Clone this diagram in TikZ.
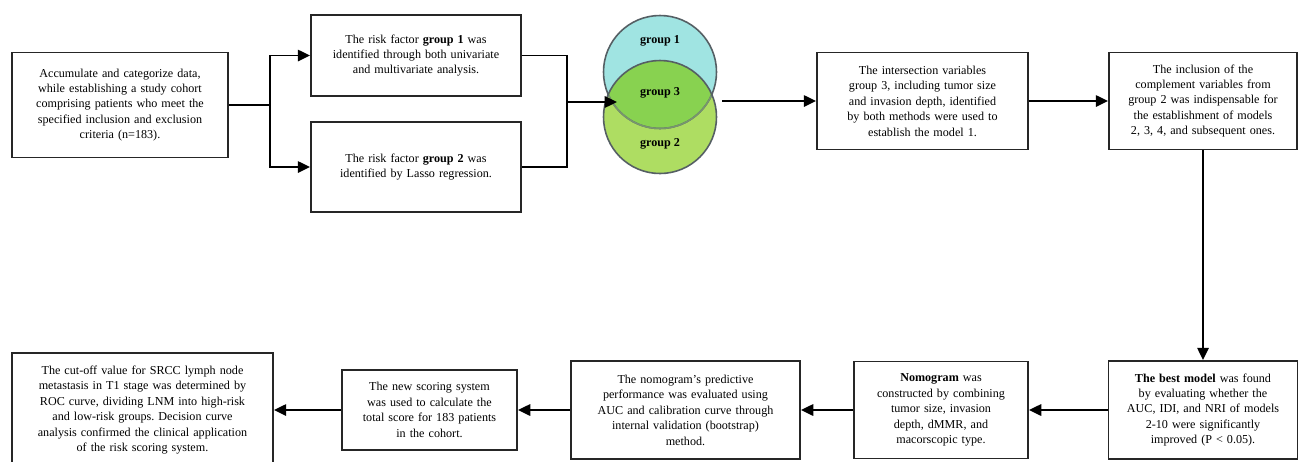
\documentclass[tikz,border=0pt]{standalone}
\usepackage{fontspec}
\setmainfont{Liberation Serif}
\usetikzlibrary{arrows.meta}
\definecolor{setone}{RGB}{160,228,226}
\definecolor{settwo}{RGB}{174,221,98}
\definecolor{setboth}{RGB}{136,210,80}
\definecolor{rimgray}{RGB}{85,95,100}
\definecolor{rimfaint}{RGB}{120,150,110}
\frenchspacing

\begin{document}
\begin{tikzpicture}[x=0.02cm, y=-0.02cm,
    stage/.style={draw=black!85, line width=1.1pt, fill=white, align=center,
      inner xsep=0pt, inner ysep=0pt, font=\fontsize{6.9}{8.8}\selectfont},
    link/.style={line width=1.1pt},
    flow/.style={link, -{Triangle[length=7pt,width=6.5pt]}},
    setlabel/.style={font=\fontsize{6.9}{8.8}\selectfont\bfseries}]
  \useasboundingbox (0,0) rectangle (1302,461);

  % Cohort and the two selection methods
  \node[stage, text width=4.32cm, minimum height=2.10cm] (cohort) at (120,105)
    {Accumulate and categorize data,\\ while establishing a study cohort\\
     comprising patients who meet the\\ specified inclusion and exclusion\\ criteria (n=183).};
  \node[stage, text width=4.20cm, minimum height=1.62cm] (groupone) at (416,55.5)
    {The risk factor \textbf{group 1} was\\ identified through both univariate\\ and multivariate analysis.};
  \node[stage, text width=4.20cm, minimum height=1.80cm] (grouptwo) at (416,167)
    {The risk factor \textbf{group 2} was\\ identified by Lasso regression.};

  % Venn of the two groups
  \fill[setone] (660,72) circle (56.5);
  \fill[settwo] (660,117) circle (56.5);
  \begin{scope}
    \clip (660,72) circle (56.5);
    \fill[setboth] (660,117) circle (56.5);
  \end{scope}
  \draw[rimgray, line width=0.9pt] (660,72) circle (56.5);
  \begin{scope}
    \clip (660,117) circle (56.5);
    \draw[rimfaint, line width=0.9pt] (660,72) circle (56.5);
  \end{scope}
  \draw[rimgray, line width=0.9pt] (660,117) circle (56.5);
  \node[setlabel] (vone) at (660,41) {group 1};
  \node[setlabel] (vboth) at (660,93) {group 3};
  \node[setlabel] (vtwo) at (660,144) {group 2};

  % Model building
  \node[stage, text width=4.22cm, minimum height=1.94cm] (common) at (922.5,101)
    {The intersection variables\\ group 3, including tumor size\\ and invasion depth, identified\\
     by both methods were used to\\ establish the model 1.};
  \node[stage, text width=3.76cm, minimum height=1.94cm] (complement) at (1203,101)
    {The inclusion of the\\ complement variables from\\ group 2 was indispensable for\\
     the establishment of models\\ 2, 3, 4, and subsequent ones.};

  % Bottom row, right to left
  \node[stage, text width=3.78cm, minimum height=1.96cm] (best) at (1203,410)
    {\textbf{The best model} was found\\ by evaluating whether the\\ AUC, IDI, and NRI of models\\
     2-10 were significantly\\ improved (P < 0.05).};
  \node[stage, text width=3.48cm, minimum height=1.94cm] (nomo) at (941,410)
    {\textbf{Nomogram} was\\ constructed by combining\\ tumor size, invasion\\ depth, dMMR, and\\ macorscopic type.};
  \node[stage, text width=4.58cm, minimum height=1.96cm] (valid) at (685.5,410)
    {The nomogram's predictive\\ performance was evaluated using\\ AUC and calibration curve through\\
     internal validation (bootstrap)\\ method.};
  \node[stage, text width=3.50cm, minimum height=1.60cm] (score) at (429.5,410)
    {The new scoring system\\ was used to calculate the\\ total score for 183 patients\\ in the cohort.};
  \node[stage, text width=5.22cm, minimum height=2.28cm] (cutoff) at (142.5,410)
    {The cut-off value for SRCC lymph node\\ metastasis in T1 stage was determined by\\
     ROC curve, dividing LNM into high-risk\\ and low-risk groups. Decision curve\\
     analysis confirmed the clinical application\\ of the risk scoring system.};

  % Connectors
  \coordinate (split) at (270,105);
  \coordinate (merge) at (567,102);
  \coordinate (vennin) at (617,102);
  \coordinate (vennout) at (722,101);
  \draw[link] (cohort.east) -- (split);
  \draw[flow] (split) |- (groupone.west);
  \draw[flow] (split) |- (grouptwo.west);
  \draw[link] (groupone.east) -| (merge);
  \draw[link] (grouptwo.east) -| (merge);
  \draw[flow] (merge) -- (vennin);
  \draw[flow] (vennout) -- (common.west);
  \draw[flow] (common.east) -- (complement.west);
  \draw[flow] (complement.south) -- (best.north);
  \draw[flow] (best.west) -- (nomo.east);
  \draw[flow] (nomo.west) -- (valid.east);
  \draw[flow] (valid.west) -- (score.east);
  \draw[flow] (score.west) -- (cutoff.east);
\end{tikzpicture}
\end{document}
